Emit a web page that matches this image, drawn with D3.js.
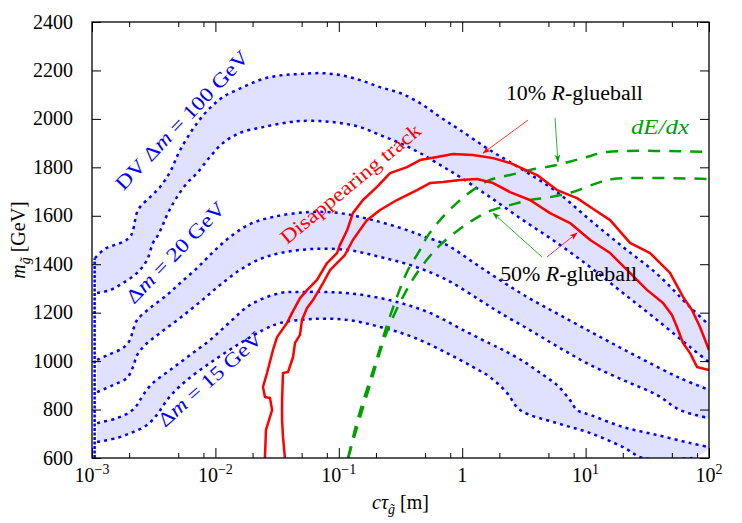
<!DOCTYPE html>
<meta charset="utf-8">
<html>
<head>
<script src="https://cdn.jsdelivr.net/npm/d3@7"></script>
<style>
  body { margin: 0; background: #fff; }
  text { font-family: "Liberation Serif", "Times New Roman", serif; }
</style>
</head>
<body>
<svg id="chart" width="742" height="523"></svg>
<script>

// ---- data: (c tau [m], gluino mass [GeV]) ----

// DV, delta m = 100 GeV band
var dv100Upper = [[1.057e-3,1425],[1.27e-3,1463],[1.78e-3,1492],[2.03e-3,1512],[2.15e-3,1541],[2.36e-3,1624],[2.95e-3,1677],[3.56e-3,1719],[4.29e-3,1781],[5.17e-3,1871],[7.1e-3,1983],[9.04e-3,2045],[0.0115,2090],[0.0167,2131],[0.0243,2165],[0.0353,2181],[0.0485,2185],[0.0704,2189],[0.102,2181],[0.149,2160],[0.216,2131],[0.313,2107],[0.455,2065],[0.661,2008],[0.96,1954],[1.68,1871],[3.11,1789],[5.87,1698],[10.9,1582],[20.1,1471],[37.9,1360],[70.2,1223],[100,1149]];
var dv100Lower = [[1.1e-3,1281],[1.4e-3,1293],[1.78e-3,1322],[2.32e-3,1364],[2.79e-3,1417],[3.12e-3,1488],[3.36e-3,1512],[3.69e-3,1554],[4.13e-3,1611],[4.88e-3,1677],[5.89e-3,1735],[7.1e-3,1776],[9.04e-3,1843],[0.0115,1900],[0.0158,1942],[0.0243,1966],[0.0402,1987],[0.0485,1991],[0.0704,1991],[0.102,1983],[0.149,1966],[0.216,1933],[0.313,1900],[0.455,1859],[0.661,1810],[0.96,1760],[1.68,1677],[3.11,1582],[5.87,1488],[10.9,1388],[20.1,1281],[37.9,1170],[70.2,1058],[100,996]];

// delta m = 20 GeV band
var dm20Upper = [[1.1e-3,1005],[1.4e-3,1029],[1.78e-3,1054],[2.03e-3,1087],[2.15e-3,1128],[2.32e-3,1170],[2.95e-3,1219],[4.05e-3,1273],[5.17e-3,1322],[7.1e-3,1384],[9.56e-3,1450],[0.0131,1512],[0.0191,1566],[0.0293,1595],[0.0553,1615],[0.102,1611],[0.189,1582],[0.357,1541],[0.481,1516],[0.753,1479],[1.22,1409],[1.91,1343],[3.35,1265],[6.2,1190],[13.1,1100],[27.6,1013],[58.2,930],[100,881]];
var dm20Lower = [[1.1e-3,872],[1.48e-3,901],[1.92e-3,930],[2.15e-3,976],[2.32e-3,1025],[2.69e-3,1066],[3.56e-3,1116],[5.17e-3,1178],[7.5e-3,1244],[0.0109,1314],[0.0158,1376],[0.023,1421],[0.0334,1446],[0.0618,1463],[0.117,1459],[0.216,1430],[0.399,1393],[0.753,1335],[1.39,1252],[2.03,1199],[3.54,1128],[6.2,1054],[10.9,984],[20.1,922],[37.9,860],[58.2,798],[100,765]];

// delta m = 15 GeV band
var dm15Upper = [[1.1e-3,744],[1.6e-3,765],[2.03e-3,790],[2.32e-3,819],[2.59e-3,860],[3.12e-3,910],[4.29e-3,963],[6.23e-3,1025],[9.04e-3,1087],[0.0131,1161],[0.0191,1232],[0.0334,1281],[0.0485,1285],[0.0849,1285],[0.157,1273],[0.296,1244],[0.548,1199],[1.02,1128],[1.91,1058],[2.14,1046],[3.11,1000],[4.52,943],[5.87,901],[7.48,839],[8.52,798],[10.9,778],[20.1,728],[37.9,695],[70.2,662],[100,645]];
var dm15Lower = [[1.1e-3,666],[1.6e-3,683],[2.15e-3,707],[2.79e-3,736],[3.36e-3,778],[3.9e-3,827],[4.53e-3,868],[5.89e-3,922],[9.04e-3,992],[0.015,1066],[0.0243,1128],[0.0334,1157],[0.0618,1174],[0.117,1170],[0.216,1141],[0.399,1099],[0.753,1033],[1.22,976],[1.68,934],[2.31,868],[2.94,798],[5.87,744],[10.9,703],[20.1,645],[29.2,600],[74.2,600]];

// left closing edge of the bands
var bandEdge = [[1.05e-3,600],[1.05e-3,1425]];

// disappearing track (10% and 50% R-glueball)
var trackOuter = [[0.0252,600],[0.0257,716],[0.0288,798],[0.0277,848],[0.0252,852],[0.0243,893],[0.0262,951],[0.0293,1046],[0.0316,1099],[0.038,1157],[0.0418,1199],[0.0485,1260],[0.0553,1293],[0.0666,1335],[0.0803,1405],[0.0967,1446],[0.102,1479],[0.117,1541],[0.13,1611],[0.157,1665],[0.204,1719],[0.26,1776],[0.357,1801],[0.455,1830],[0.625,1843],[0.842,1855],[1.22,1851],[1.78,1838],[2.44,1818],[4.04,1768],[5.87,1706],[8.52,1673],[10.9,1636],[15.8,1582],[22.9,1488],[33.3,1446],[48.3,1364],[61.6,1265],[72.8,1211],[84.5,1141],[100,1046]];
var trackInner = [[0.0366,600],[0.0353,687],[0.0347,757],[0.0347,839],[0.0353,951],[0.0388,955],[0.0426,1017],[0.0442,1075],[0.0485,1108],[0.0503,1170],[0.0553,1219],[0.0618,1252],[0.0745,1322],[0.0849,1376],[0.112,1438],[0.13,1500],[0.169,1582],[0.216,1624],[0.296,1665],[0.43,1706],[0.548,1735],[0.699,1739],[0.96,1748],[1.32,1752],[1.78,1735],[2.44,1698],[3.54,1665],[5.15,1611],[7.48,1570],[10.9,1500],[15.8,1446],[22.9,1364],[31.4,1294],[42.4,1240],[50.1,1190],[55,1141],[61.6,1075],[70.2,1033],[79.9,976],[100,963]];

// dE/dx
var dedxUpper = [[0.119,600],[0.135,716],[0.154,819],[0.179,922],[0.204,1013],[0.246,1149],[0.296,1265],[0.357,1368],[0.455,1459],[0.518,1512],[0.661,1582],[0.908,1653],[1.22,1706],[1.68,1748],[2.44,1768],[3.54,1789],[5.87,1810],[9.53,1838],[14.9,1863],[100,1863]];
var dedxLower = [[0.119,600],[0.14,724],[0.166,848],[0.197,972],[0.232,1087],[0.28,1190],[0.344,1281],[0.43,1364],[0.548,1434],[0.661,1479],[0.908,1537],[1.22,1582],[1.68,1620],[2.44,1644],[3.54,1665],[5.15,1677],[7.9,1698],[12.4,1735],[16.7,1752],[100,1752]];

// axes
var xMajor = [1e-3, 1e-2, 1e-1, 1, 10, 100];
var xMinor = [2e-3,5e-3,8e-3,2e-2,5e-2,8e-2,0.2,0.5,0.8,2,5,8,20,50,80];
var xLabelBase = ["10","10","10","1","10","10"];
var xLabelExp = ["\u22123","\u22122","\u22121","","1","2"];
var yTicks = [600,800,1000,1200,1400,1600,1800,2000,2200,2400];

// annotation arrows (from, to)
var arrows = [
  {from:[3.41,1995], to:[1.48,1859], color:"red"},
  {from:[5.65,2004], to:[5.97,1822], color:"green"},
  {from:[4.43,1430], to:[1.78,1611], color:"green"},
  {from:[4.87,1430], to:[8.52,1529], color:"red"}
];

var BLUE = "#0000ff", FILL = "#e0e0ff", RED = "#ff0000", GREEN = "#00a000";

var margin = {top: 22, right: 33, bottom: 65, left: 92},
    width = 742 - margin.left - margin.right,
    height = 523 - margin.top - margin.bottom;

var x = d3.scaleLog().domain([1e-3, 1e2]).range([0, width]);
var y = d3.scaleLinear().domain([600, 2400]).range([height, 0]);

var svg = d3.select("#chart");
var defs = svg.append("defs");
defs.append("clipPath").attr("id", "plotClip")
  .append("rect").attr("width", width).attr("height", height);

[["red", RED], ["green", GREEN]].forEach(function(c){
  defs.append("marker")
    .attr("id", "arrow-" + c[0])
    .attr("viewBox", "0 0 10 10")
    .attr("refX", 9).attr("refY", 5)
    .attr("markerWidth", 8).attr("markerHeight", 8)
    .attr("markerUnits", "userSpaceOnUse")
    .attr("orient", "auto")
    .append("path").attr("d", "M0,1.5 L10,5 L0,8.5 L2.5,5 Z").attr("fill", c[1]);
});

var g = svg.append("g").attr("transform", "translate(" + margin.left + "," + margin.top + ")");
var plot = g.append("g").attr("clip-path", "url(#plotClip)");

var smooth = d3.line().x(function(d){ return x(d[0]); }).y(function(d){ return y(d[1]); })
  .curve(d3.curveCatmullRom.alpha(0.5));
var straight = d3.line().x(function(d){ return x(d[0]); }).y(function(d){ return y(d[1]); });

// band fills
[[dv100Upper, dv100Lower], [dm20Upper, dm20Lower], [dm15Upper, dm15Lower]].forEach(function(b){
  var poly = b[0].concat(b[1].slice().reverse());
  plot.append("path").attr("d", smooth(poly) + "Z").attr("fill", FILL).attr("stroke", "none");
});

// blue dotted edges
[dv100Upper, dv100Lower, dm20Upper, dm20Lower, dm15Upper, dm15Lower].forEach(function(c){
  plot.append("path").attr("d", smooth(c))
    .attr("fill", "none").attr("stroke", BLUE).attr("stroke-width", 2.5)
    .attr("stroke-dasharray", "3,4.2");
});
plot.append("path").attr("d", straight(bandEdge))
  .attr("fill", "none").attr("stroke", BLUE).attr("stroke-width", 2.5)
  .attr("stroke-dasharray", "3,1.5");

// dE/dx dashed
[dedxUpper, dedxLower].forEach(function(c){
  plot.append("path").attr("d", smooth(c))
    .attr("fill", "none").attr("stroke", GREEN).attr("stroke-width", 2.5)
    .attr("stroke-dasharray", "12,9");
});

// disappearing track
[trackOuter, trackInner].forEach(function(c){
  plot.append("path").attr("d", straight(c))
    .attr("fill", "none").attr("stroke", RED).attr("stroke-width", 2.5)
    .attr("stroke-linejoin", "round");
});

// frame + ticks
function noDomain(sel){ sel.select(".domain").remove(); sel.selectAll(".tick line").attr("stroke", "#000"); }
g.append("g").attr("transform", "translate(0," + height + ")")
  .call(d3.axisBottom(x).tickValues(xMajor).tickSize(-10).tickFormat("")).call(noDomain);
g.append("g").attr("transform", "translate(0," + height + ")")
  .call(d3.axisBottom(x).tickValues(xMinor).tickSize(-5).tickFormat("")).call(noDomain);
g.append("g")
  .call(d3.axisTop(x).tickValues(xMajor).tickSize(-10).tickFormat("")).call(noDomain);
g.append("g")
  .call(d3.axisTop(x).tickValues(xMinor).tickSize(-5).tickFormat("")).call(noDomain);
g.append("g")
  .call(d3.axisLeft(y).tickValues(yTicks).tickSize(-9).tickFormat("")).call(noDomain);
g.append("g").attr("transform", "translate(" + width + ",0)")
  .call(d3.axisRight(y).tickValues(yTicks).tickSize(-9).tickFormat("")).call(noDomain);
g.append("rect").attr("width", width).attr("height", height)
  .attr("fill", "none").attr("stroke", "#000").attr("stroke-width", 1.3);

// tick labels
g.selectAll(".ylab").data(yTicks).enter().append("text")
  .attr("x", -19).attr("y", function(d){ return y(d) + 6.5; })
  .attr("text-anchor", "end").attr("font-size", 20).text(function(d){ return d; });

xMajor.forEach(function(v, i){
  var t = g.append("text").attr("x", x(v)).attr("y", height + 24)
    .attr("text-anchor", "middle").attr("font-size", 20);
  t.append("tspan").text(xLabelBase[i]);
  if (xLabelExp[i]) t.append("tspan").attr("dy", -8).attr("font-size", 14).text(xLabelExp[i]);
});

// axis titles
var xt = g.append("text").attr("x", width / 2).attr("y", height + 51)
  .attr("text-anchor", "middle").attr("font-size", 20);
xt.append("tspan").attr("font-style", "italic").text("c\u03c4");
xt.append("tspan").attr("font-style", "italic").attr("font-size", 14).attr("dy", 5).text("g\u0303");
xt.append("tspan").attr("dy", -5).text(" [m]");

var yt = g.append("text").attr("transform", "translate(" + (25 - margin.left) + "," + (height / 2) + ") rotate(-90)")
  .attr("text-anchor", "middle").attr("font-size", 20);
yt.append("tspan").attr("font-style", "italic").text("m");
yt.append("tspan").attr("font-style", "italic").attr("font-size", 14).attr("dy", 5).text("g\u0303");
yt.append("tspan").attr("dy", -5).text(" [GeV]");

// arrows
arrows.forEach(function(a){
  g.append("line")
    .attr("x1", x(a.from[0])).attr("y1", y(a.from[1]))
    .attr("x2", x(a.to[0])).attr("y2", y(a.to[1]))
    .attr("stroke", a.color === "red" ? RED : GREEN).attr("stroke-width", 0.8)
    .attr("marker-end", "url(#arrow-" + a.color + ")");
});

// labels (textLength stretches the narrower fallback font to the width of the original)
function glueball(pct, at){
  var t = g.append("text").attr("x", x(at[0])).attr("y", y(at[1])).attr("font-size", 20).attr("fill", "#000")
    .attr("textLength", 137).attr("lengthAdjust", "spacingAndGlyphs");
  t.append("tspan").text(pct + "% ");
  t.append("tspan").attr("font-style", "italic").text("R");
  t.append("tspan").text("-glueball");
}
glueball(10, [2.26, 2078]);
glueball(50, [2.03, 1331]);

g.append("text").attr("x", x(23.3)).attr("y", y(1937)).attr("font-size", 20)
  .attr("textLength", 58).attr("lengthAdjust", "spacingAndGlyphs")
  .attr("font-style", "italic").attr("fill", GREEN).text("dE/dx");

g.append("text").attr("transform", "translate(" + x(0.038) + "," + y(1479) + ") rotate(-39.6)")
  .attr("textLength", 176).attr("lengthAdjust", "spacingAndGlyphs")
  .attr("font-size", 20).attr("fill", RED).text("Disappearing track");

function bandLabel(pre, val, at, ang, len){
  var t = g.append("text").attr("transform", "translate(" + x(at[0]) + "," + y(at[1]) + ") rotate(" + ang + ")")
    .attr("textLength", len).attr("lengthAdjust", "spacingAndGlyphs")
    .attr("font-size", 20).attr("fill", BLUE);
  t.append("tspan").text(pre + "\u0394");
  t.append("tspan").attr("font-style", "italic").text("m");
  t.append("tspan").text(" = " + val + " GeV");
}
bandLabel("DV ", 100, [1.8e-3, 1700], -46.5, 184);
bandLabel("", 20, [2.19e-3, 1232], -46, 133);
bandLabel("", 15, [3.9e-3, 724], -41.5, 132);

</script>
</body>
</html>
